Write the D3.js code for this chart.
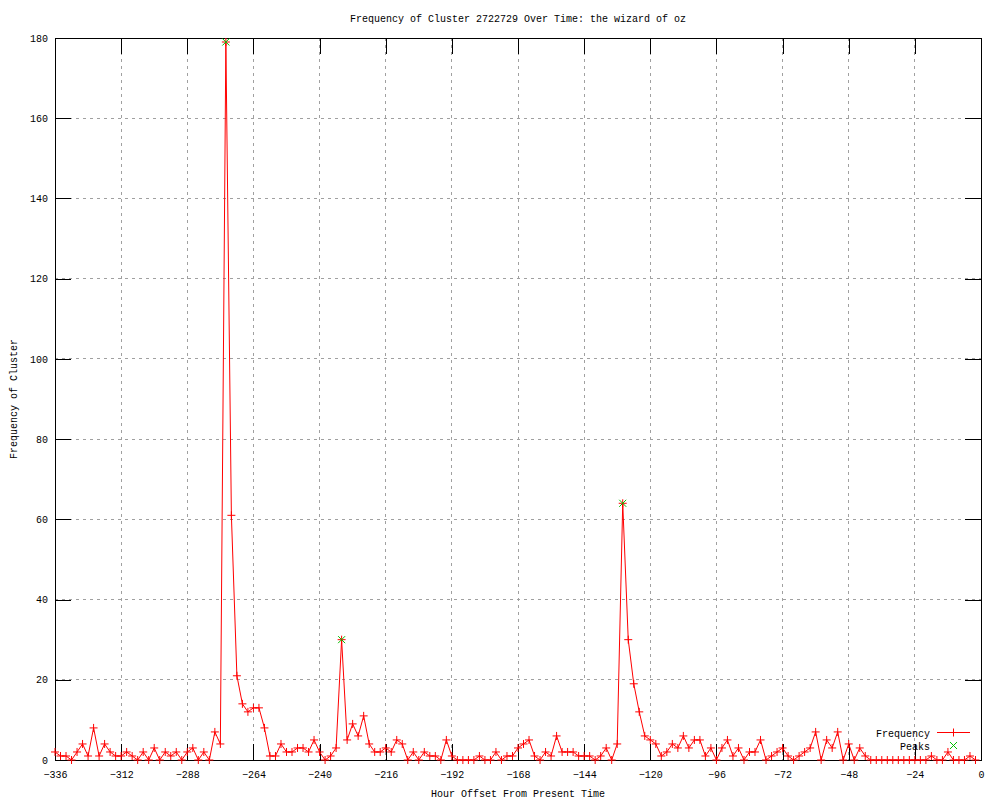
<!DOCTYPE html>
<html>
<head>
<meta charset="utf-8">
<title>Frequency of Cluster 2722729 Over Time</title>
<script src="https://cdn.jsdelivr.net/npm/d3@7"></script>
<style>
    body { margin: 0; background: #fff; }
    text { font-family: "Liberation Mono", "DejaVu Sans Mono", monospace; font-size: 10px; fill: #000; }
</style>
</head>
<body>
<svg id="chart" width="1000" height="800"></svg>
<script>

// hour offsets, one sample every 2 hours from -336 up to -2
var hours = d3.range(-336, 0, 2);

// cluster frequency for each hour offset
var frequency = [
    2, 1, 1, 0, 2, 4, 1, 8, 1, 4, 2, 1, 1, 2, 1, 0, 2, 0, 3, 0, 2, 1, 2, 0,        // -336 .. -290
    2, 3, 0, 2, 0, 7, 4, 179, 61, 21, 14, 12, 13, 13, 8, 1, 1, 4, 2, 2, 3, 3, 2, 5, // -288 .. -242
    2, 0, 1, 3, 30, 5, 9, 6, 11, 4, 2, 2, 3, 2, 5, 4, 0, 2, 0, 2, 1, 1, 0, 5,       // -240 .. -194
    1, 0, 0, 0, 0, 1, 0, 0, 2, 0, 1, 1, 3, 4, 5, 1, 0, 2, 1, 6, 2, 2, 2, 1,         // -192 .. -146
    1, 1, 0, 1, 3, 0, 4, 64, 30, 19, 12, 6, 5, 4, 1, 2, 4, 3, 6, 3, 5, 5, 1, 3,     // -144 .. -98
    0, 3, 5, 1, 3, 0, 2, 2, 5, 0, 1, 2, 3, 1, 0, 1, 2, 3, 7, 0, 5, 3, 7, 0,         // -96 .. -50
    4, 0, 3, 1, 0, 0, 0, 0, 0, 0, 0, 0, 0, 0, 0, 1, 0, 0, 2, 0, 0, 0, 1, 0          // -48 .. -2
];

// detected peaks
var peakHours = [-274, -232, -130];
var peakValues = [179, 30, 64];

// tick labels
var xTicks = [-336, -312, -288, -264, -240, -216, -192, -168, -144, -120, -96, -72, -48, -24, 0];
var yTicks = [0, 20, 40, 60, 80, 100, 120, 140, 160, 180];

var titleText = "Frequency of Cluster 2722729 Over Time: the wizard of oz";
var xLabel = "Hour Offset From Present Time";
var yLabel = "Frequency of Cluster";
var legendNames = ["Frequency", "Peaks"];

var width = 1000,
    height = 800,
    margin = {top: 38, right: 19, bottom: 40, left: 55};
var plotW = width - margin.left - margin.right,
    plotH = height - margin.top - margin.bottom;

var red = "#ff0000",
    green = "#00c000",
    gridGrey = "#a0a0a0";

var svg = d3.select("#chart");
var g = svg.append("g").attr("transform", "translate(" + margin.left + "," + margin.top + ")");

var x = d3.scaleLinear().domain([-336, 0]).range([0, plotW]);
var y = d3.scaleLinear().domain([0, 180]).range([plotH, 0]);

// grid (dotted)
g.append("g").selectAll("line.vgrid")
    .data(xTicks.slice(1, -1))
    .enter().append("line")
    .attr("x1", function(d){ return x(d); })
    .attr("x2", function(d){ return x(d); })
    .attr("y1", 0)
    .attr("y2", plotH)
    .attr("stroke", gridGrey)
    .attr("stroke-dasharray", "3,4")
    .attr("shape-rendering", "crispEdges");
g.append("g").selectAll("line.hgrid")
    .data(yTicks.slice(1, -1))
    .enter().append("line")
    .attr("x1", 0)
    .attr("x2", plotW)
    .attr("y1", function(d){ return y(d); })
    .attr("y2", function(d){ return y(d); })
    .attr("stroke", gridGrey)
    .attr("stroke-dasharray", "3,4")
    .attr("shape-rendering", "crispEdges");

// axes, ticks pointing inwards like gnuplot, mirrored on top/right
function styleAxis(sel){
    sel.select(".domain").remove();
    sel.selectAll(".tick line").attr("stroke", "#000").attr("shape-rendering", "crispEdges");
    sel.selectAll(".tick text")
        .style("font-family", "'Liberation Mono', 'DejaVu Sans Mono', monospace")
        .style("font-size", "10px");
}

g.append("g")
    .attr("transform", "translate(0," + plotH + ")")
    .call(d3.axisBottom(x).tickValues(xTicks).tickSizeInner(-16).tickSizeOuter(0).tickPadding(11).tickFormat(d3.format("d")))
    .call(styleAxis);
g.append("g")
    .call(d3.axisTop(x).tickValues(xTicks).tickSizeInner(-16).tickSizeOuter(0).tickFormat(""))
    .call(styleAxis);
g.append("g")
    .call(d3.axisLeft(y).tickValues(yTicks).tickSizeInner(-16).tickSizeOuter(0).tickPadding(7).tickFormat(d3.format("d")))
    .call(styleAxis);
g.append("g")
    .attr("transform", "translate(" + plotW + ",0)")
    .call(d3.axisRight(y).tickValues(yTicks).tickSizeInner(-16).tickSizeOuter(0).tickFormat(""))
    .call(styleAxis);

// border
g.append("rect")
    .attr("width", plotW)
    .attr("height", plotH)
    .attr("fill", "none")
    .attr("stroke", "#000")
    .attr("shape-rendering", "crispEdges");

// frequency line
var line = d3.line()
    .x(function(d, i){ return x(hours[i]); })
    .y(function(d){ return y(d); });

g.append("path")
    .datum(frequency)
    .attr("d", line)
    .attr("fill", "none")
    .attr("stroke", red)
    .attr("stroke-width", 1);

// + markers
var plusSym = d3.symbol().type(d3.symbolCross);
function plusPath(s){
    return "M" + (-s) + ",0H" + s + "M0," + (-s) + "V" + s;
}
function crossPath(s){
    return "M" + (-s) + "," + (-s) + "L" + s + "," + s + "M" + (-s) + "," + s + "L" + s + "," + (-s);
}

g.append("g").selectAll("path")
    .data(frequency)
    .enter().append("path")
    .attr("transform", function(d, i){ return "translate(" + x(hours[i]) + "," + y(d) + ")"; })
    .attr("d", plusPath(4))
    .attr("stroke", red)
    .attr("fill", "none");

// peaks (green x)
g.append("g").selectAll("path")
    .data(peakValues)
    .enter().append("path")
    .attr("transform", function(d, i){ return "translate(" + x(peakHours[i]) + "," + y(d) + ")"; })
    .attr("d", crossPath(3.5))
    .attr("stroke", green)
    .attr("fill", "none");

// legend
var legend = svg.append("g");
legend.append("text").attr("x", 930).attr("y", 737).attr("text-anchor", "end").text(legendNames[0]);
legend.append("line").attr("x1", 937).attr("x2", 970).attr("y1", 732.5).attr("y2", 732.5).attr("stroke", red);
legend.append("path").attr("transform", "translate(953.5,732.5)").attr("d", plusPath(4)).attr("stroke", red);
legend.append("text").attr("x", 930).attr("y", 750).attr("text-anchor", "end").text(legendNames[1]);
legend.append("path").attr("transform", "translate(953.5,745.5)").attr("d", crossPath(3.5)).attr("stroke", green);

// titles
svg.append("text")
    .attr("x", margin.left + plotW / 2)
    .attr("y", 22)
    .attr("text-anchor", "middle")
    .text(titleText);
svg.append("text")
    .attr("x", margin.left + plotW / 2)
    .attr("y", 797)
    .attr("text-anchor", "middle")
    .text(xLabel);
svg.append("text")
    .attr("transform", "translate(17," + (margin.top + plotH / 2) + ") rotate(-90)")
    .attr("text-anchor", "middle")
    .text(yLabel);

</script>
</body>
</html>
